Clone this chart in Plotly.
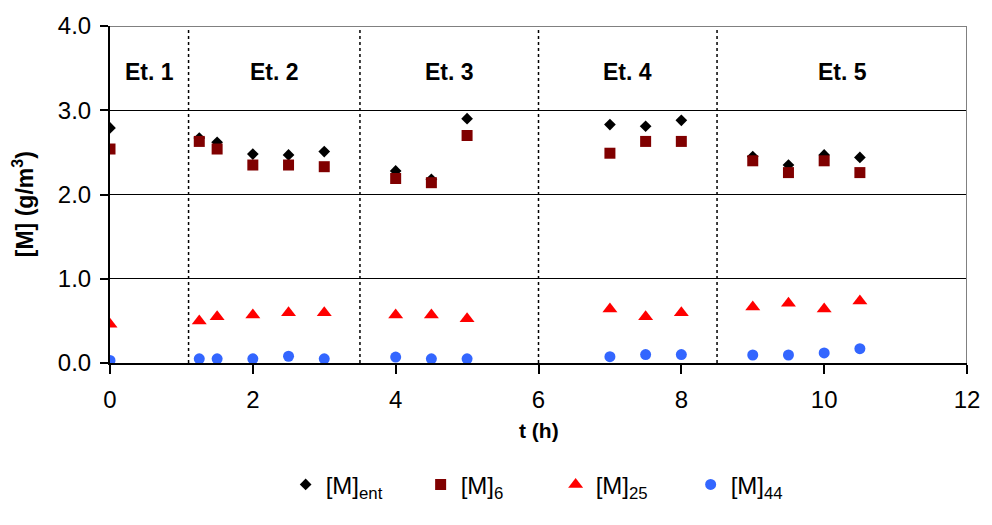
import plotly.graph_objects as go

# Sampling times (h)
t = [0, 1.25, 1.5, 2, 2.5, 3, 4, 4.5, 5, 7, 7.5, 8, 9, 9.5, 10, 10.5]

# Concentrations (g/m3)
m_ent = [2.79, 2.67, 2.62, 2.48, 2.47, 2.51, 2.28, 2.18, 2.90, 2.83, 2.81, 2.88, 2.45, 2.35, 2.47, 2.44]
m_6 = [2.54, 2.63, 2.54, 2.35, 2.35, 2.33, 2.19, 2.14, 2.70, 2.49, 2.63, 2.63, 2.40, 2.26, 2.40, 2.26]
m_25 = [0.46, 0.50, 0.55, 0.57, 0.595, 0.595, 0.57, 0.57, 0.525, 0.64, 0.55, 0.595, 0.665, 0.71, 0.64, 0.735]
m_44 = [0.03, 0.05, 0.05, 0.05, 0.08, 0.05, 0.07, 0.05, 0.05, 0.075, 0.10, 0.10, 0.095, 0.095, 0.12, 0.17]

# Stage boundaries and labels
stage_bounds = [0, 1.1, 3.5, 6.0, 8.5, 12]
stage_labels = ["Et. 1", "Et. 2", "Et. 3", "Et. 4", "Et. 5"]

FONT = "Liberation Sans, Arial, sans-serif"

fig = go.Figure()
series = [
    ("[M]<sub>ent</sub>", m_ent, dict(symbol="diamond", size=9, color="#000000")),
    ("[M]<sub>6</sub>", m_6, dict(symbol="square", size=11, color="#800000")),
    ("[M]<sub>25</sub>", m_25, dict(symbol="triangle-up", size=13, color="#FF0000")),
    ("[M]<sub>44</sub>", m_44, dict(symbol="circle", size=11, color="#3366FF")),
]
for name, vals, mk in series:
    fig.add_trace(go.Scatter(x=t, y=vals, mode="markers", name=name,
                             marker=dict(line=dict(width=0), **mk)))

shapes = []
# dotted stage separators
for b in stage_bounds[1:-1]:
    shapes.append(dict(type="line", xref="x", yref="y", x0=b, x1=b, y0=0, y1=4,
                       line=dict(color="#000000", width=1.5, dash="dot"), layer="below"))
# top and right frame
shapes.append(dict(type="line", xref="x", yref="y", x0=0, x1=12, y0=4, y1=4,
                   line=dict(color="#808080", width=2)))
shapes.append(dict(type="line", xref="x", yref="y", x0=12, x1=12, y0=0, y1=4,
                   line=dict(color="#808080", width=2)))

annotations = []
for i, lab in enumerate(stage_labels):
    xc = (stage_bounds[i] + stage_bounds[i + 1]) / 2
    annotations.append(dict(x=xc, y=3.46, xref="x", yref="y", text="<b>%s</b>" % lab,
                            showarrow=False, font=dict(size=23, color="#000000", family=FONT)))
annotations.append(dict(x=-0.102, y=0.47, xref="paper", yref="paper", xanchor="center",
                        yanchor="middle", text="<b>[M] (g/m<sup>3</sup>)</b>", textangle=-90,
                        showarrow=False, font=dict(size=23, color="#000000", family=FONT)))
annotations.append(dict(x=0.5, y=-0.201, xref="paper", yref="paper", xanchor="center",
                        yanchor="middle", text="<b>t (h)</b>",
                        showarrow=False, font=dict(size=21, color="#000000", family=FONT)))

fig.update_layout(
    width=992, height=525,
    margin=dict(l=110, r=19, t=20, b=162),
    paper_bgcolor="#ffffff", plot_bgcolor="#ffffff",
    font=dict(family=FONT, color="#000000", size=24),
    showlegend=True,
    legend=dict(orientation="h", x=0.52, xanchor="center", y=-0.3615, yanchor="middle",
                font=dict(size=24, family=FONT), itemwidth=30, entrywidth=90,
                bgcolor="rgba(0,0,0,0)"),
    shapes=shapes,
    annotations=annotations,
    xaxis=dict(range=[0, 12], tickvals=[0, 2, 4, 6, 8, 10, 12], showgrid=False, zeroline=False,
               showline=True, linecolor="#000000", linewidth=2, ticks="outside", ticklen=9,
               tickwidth=2, tickcolor="#000000", ticklabelstandoff=5,
               tickfont=dict(size=24, family=FONT)),
    yaxis=dict(range=[0, 4], tickvals=[0, 1, 2, 3, 4], tickformat=".1f", showgrid=True,
               gridcolor="#000000", gridwidth=1, zeroline=False, showline=True,
               linecolor="#000000", linewidth=2, ticks="outside", ticklen=8, tickwidth=2,
               tickcolor="#000000", ticklabelstandoff=4,
               tickfont=dict(size=24, family=FONT)),
)

fig.write_html("out.html")
